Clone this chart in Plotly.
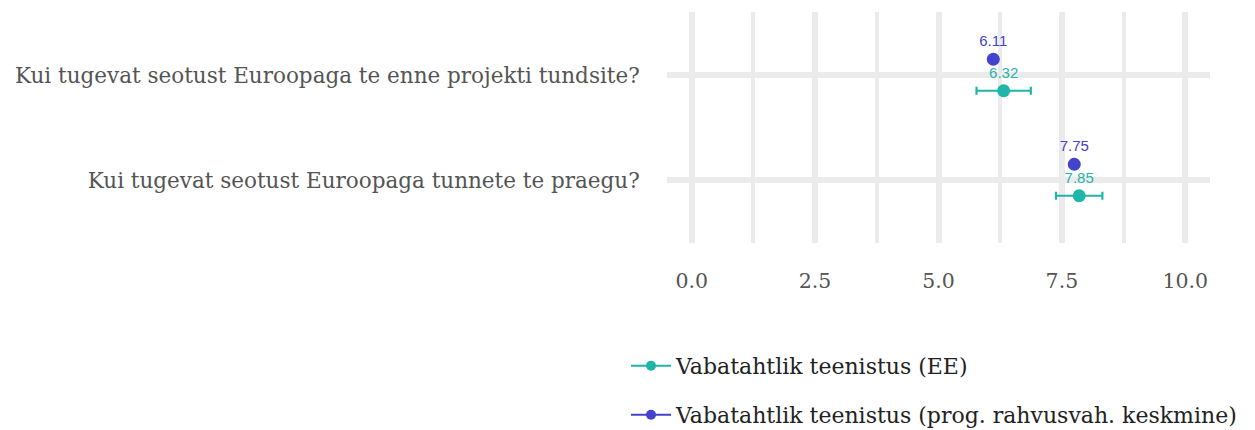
import plotly.graph_objects as go

categories = [
    "Kui tugevat seotust Euroopaga te enne projekti tundsite?",
    "Kui tugevat seotust Euroopaga tunnete te praegu?",
]
series_names = [
    "Vabatahtlik teenistus (EE)",
    "Vabatahtlik teenistus (prog. rahvusvah. keskmine)",
]
ee_values = [6.32, 7.85]
ee_err = [0.55, 0.47]
intl_values = [6.11, 7.75]
x_ticks = [0.0, 2.5, 5.0, 7.5, 10.0]

TEAL = "#1FB5A9"
BLUE = "#4343CF"
FONT = "Roboto Slab, DejaVu Serif, serif"
LBLFONT = "Arial, Liberation Sans, sans-serif"
DODGE = 0.15

pos = list(range(len(categories)))

fig = go.Figure()
fig.add_trace(go.Scatter(
    x=intl_values, y=[p - DODGE for p in pos], mode="markers+text",
    marker=dict(color=BLUE, size=13), text=[f"{v:.2f}" for v in intl_values],
    textposition="top center", textfont=dict(color=BLUE, size=15, family=LBLFONT),
    showlegend=False, cliponaxis=False))
fig.add_trace(go.Scatter(
    x=ee_values, y=[p + DODGE for p in pos], mode="markers+text",
    marker=dict(color=TEAL, size=13), text=[f"{v:.2f}" for v in ee_values],
    textposition="top center", textfont=dict(color=TEAL, size=15, family=LBLFONT),
    error_x=dict(type="data", array=ee_err, color=TEAL, thickness=2.2, width=4),
    showlegend=False, cliponaxis=False))

fig.add_trace(go.Scatter(x=[None], y=[None], mode="lines+markers", name=series_names[0],
                         line=dict(color=TEAL, width=2), marker=dict(color=TEAL, size=10), legend="legend"))
fig.add_trace(go.Scatter(x=[None], y=[None], mode="lines+markers", name=series_names[1],
                         line=dict(color=BLUE, width=2), marker=dict(color=BLUE, size=10), legend="legend2"))

W, H = 1255, 430
ML, MR, MT, MB = 667, 45, 12, 187
PW, PH = W - ML - MR, H - MT - MB
LX = (626 - ML) / PW
legend_common = dict(xanchor="left", yanchor="middle", itemwidth=40,
                     font=dict(size=22, color="#222222", family=FONT), bgcolor="rgba(0,0,0,0)")
fig.update_layout(
    width=W, height=H,
    margin=dict(l=ML, r=MR, t=MT, b=MB, autoexpand=False),
    plot_bgcolor="white", paper_bgcolor="white",
    font=dict(family=FONT, color="#555555"),
    legend=dict(x=LX, y=-(366 - (H - MB)) / PH, **legend_common),
    legend2=dict(x=LX, y=-(415 - (H - MB)) / PH, **legend_common),
)
fig.update_xaxes(
    range=[-0.5, 10.5], tickvals=x_ticks, ticktext=[f"{v:.1f}" for v in x_ticks],
    showgrid=True, gridcolor="#EBEBEB", gridwidth=6, zeroline=False, showline=False,
    ticks="outside", ticklen=19, tickcolor="rgba(0,0,0,0)", automargin=False,
    tickfont=dict(size=20.5, color="#555555", family=FONT),
    minor=dict(dtick=1.25, tick0=0, showgrid=True, gridcolor="#EBEBEB", gridwidth=4),
)
fig.update_yaxes(
    range=[1.6, -0.6], tickvals=pos, ticktext=categories,
    showgrid=True, gridcolor="#EBEBEB", gridwidth=6, zeroline=False, showline=False,
    ticks="outside", ticklen=22, tickcolor="rgba(0,0,0,0)", automargin=False,
    tickfont=dict(size=21.5, color="#555555", family=FONT),
)
fig.write_html("out.html", config={"displayModeBar": False},
               post_script="document.body.style.margin='0px';document.body.style.overflow='hidden';")
